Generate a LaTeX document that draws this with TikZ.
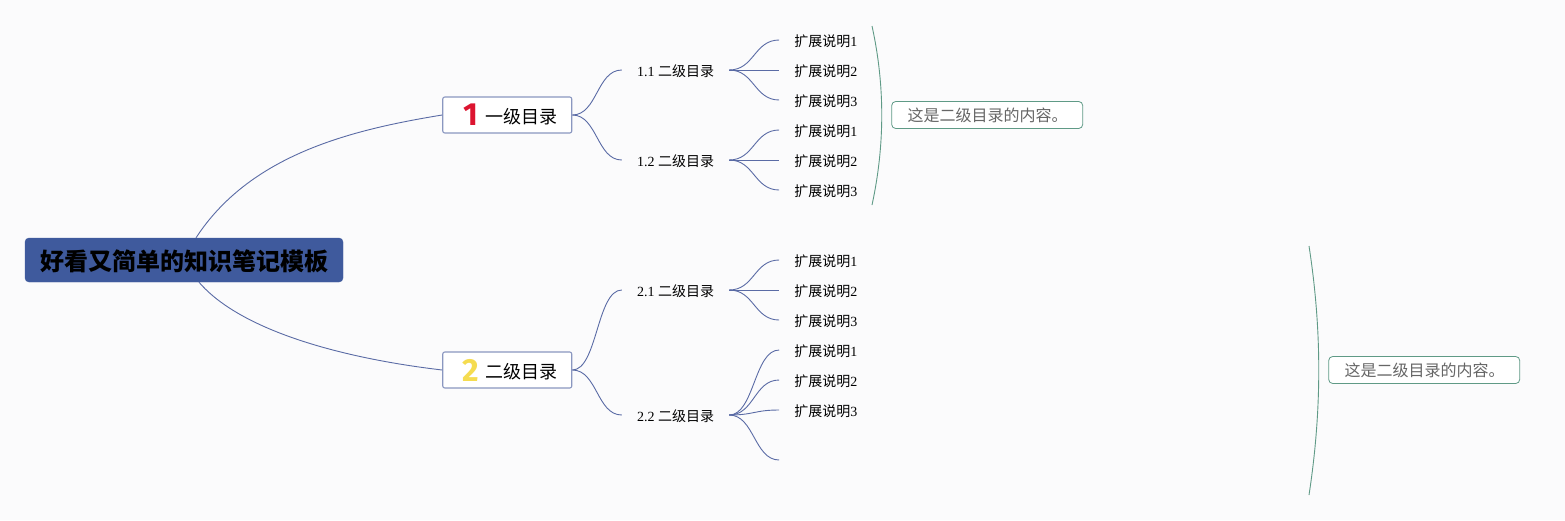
\documentclass[tikz,border=0pt]{standalone}
\usepackage{fontspec}
\usepackage{xcolor}
\usetikzlibrary{positioning}
\setmainfont{Liberation Serif}
\newfontfamily\cjk{Noto Sans CJK SC}
\newfontfamily\digitfont{Fira Sans}
\definecolor{pagebg}{HTML}{FBFBFC}
\definecolor{rootblue}{HTML}{3F5A9D}
\definecolor{linkblue}{HTML}{5A6BA5}
\definecolor{boxblue}{HTML}{8A97C0}
\definecolor{notegreen}{HTML}{5F9A86}
\definecolor{notegray}{HTML}{666666}
\definecolor{onered}{HTML}{DC1430}
\definecolor{twoyellow}{HTML}{F5DC50}
\newcommand{\expl}[1]{{\cjk 扩展说明}#1}
\newcommand{\subtitle}[1]{#1 {\cjk 二级目录}}

\begin{document}
\begin{tikzpicture}[
    x=1pt, y=-1pt,
    rootbox/.style={
        rectangle, rounded corners=4pt, fill=rootblue, draw=rootblue,
        minimum width=318pt, minimum height=44pt, inner sep=0pt,
        text height=23pt, text depth=2pt,
        font=\cjk\bfseries\fontsize{24}{28}\selectfont, text=black
    },
    levelbox/.style={
        rectangle, draw=boxblue, fill=white, rounded corners=2pt, line width=1.1pt,
        minimum height=36pt, inner xsep=14pt, inner ysep=0pt, text width=101pt, align=right,
        text height=18pt, text depth=1.4pt,
        font=\cjk\fontsize{18}{22}\selectfont
    },
    subbox/.style={
        minimum width=107pt, minimum height=20pt, inner sep=0pt,
        text height=13pt, text depth=0.5pt, font=\fontsize{14}{17}\selectfont
    },
    itembox/.style={
        minimum width=93pt, minimum height=20pt, inner sep=0pt,
        text height=13pt, text depth=0.5pt, font=\fontsize{14}{17}\selectfont
    },
    notebox/.style={
        rectangle, draw=notegreen, fill=white, rounded corners=4pt, line width=0.8pt,
        minimum height=27pt, inner xsep=16pt, inner ysep=0pt, text width=159pt, align=left,
        text=notegray, font=\cjk\fontsize{16}{19}\selectfont
    },
    icon/.style={inner sep=0pt, font=\digitfont\bfseries\fontsize{32}{36}\selectfont},
    link/.style={draw=linkblue, line width=0.9pt, to path={.. controls +(25pt,0pt) and +(-25pt,0pt) .. (\tikztotarget)}},
    trunk/.style={draw=linkblue, line width=0.9pt},
    brace/.style={draw=notegreen, line width=0.9pt}
]
\fill[pagebg] (0,0) rectangle (1565,520);

\node[rootbox] (root) at (184,260) {好看又简单的知识笔记模板};
\coordinate[right=12pt of root.north] (roottop);
\coordinate[right=15pt of root.south] (rootbot);

\node[levelbox, right=99pt of root, yshift=145pt] (one) {一级目录};
\node[levelbox, right=99pt of root, yshift=-110pt] (two) {二级目录};
\node[icon, text=onered, right=21pt of one.west] (oneicon) {1};
\node[icon, text=twoyellow, right=20.5pt of two.west] (twoicon) {2};

\node[subbox, right=49.5pt of one, yshift=45pt] (s11) {\subtitle{1.1}};
\node[subbox, right=49.5pt of one, yshift=-45pt] (s12) {\subtitle{1.2}};
\node[subbox, right=49.5pt of two, yshift=80pt] (s21) {\subtitle{2.1}};
\node[subbox, right=49.5pt of two, yshift=-45pt] (s22) {\subtitle{2.2}};

\node[itembox, right=50pt of s11, yshift=30pt] (a1) {\expl{1}};
\node[itembox, right=50pt of s11] (a2) {\expl{2}};
\node[itembox, right=50pt of s11, yshift=-30pt] (a3) {\expl{3}};
\node[itembox, right=50pt of s12, yshift=30pt] (b1) {\expl{1}};
\node[itembox, right=50pt of s12] (b2) {\expl{2}};
\node[itembox, right=50pt of s12, yshift=-30pt] (b3) {\expl{3}};
\node[itembox, right=50pt of s21, yshift=30pt] (c1) {\expl{1}};
\node[itembox, right=50pt of s21] (c2) {\expl{2}};
\node[itembox, right=50pt of s21, yshift=-30pt] (c3) {\expl{3}};
\node[itembox, right=50pt of s22, yshift=65pt] (d1) {\expl{1}};
\node[itembox, right=50pt of s22, yshift=35pt] (d2) {\expl{2}};
\node[itembox, right=50pt of s22, yshift=5pt] (d3) {\expl{3}};
\node[itembox, right=50pt of s22, yshift=-45pt] (d4) {};

\node[notebox, right=319pt of one] (note1) {这是二级目录的内容。};
\node[notebox, right=756pt of two] (note2) {这是二级目录的内容。};
\coordinate (br1a) at (872,26);
\coordinate (br1b) at (872,205);
\coordinate (br2a) at (1309,246);
\coordinate (br2b) at (1309,495);

\draw[trunk] (roottop) .. controls (250,155) and (350,130) .. (one.west);
\draw[trunk] (rootbot) .. controls (240,330) and (340,358) .. (two.west);

\draw[link] (one.east) to (s11.west);
\draw[link] (one.east) to (s12.west);
\draw[link] (two.east) to (s21.west);
\draw[link] (two.east) to (s22.west);

\draw[link] (s11.east) to (a1.west);
\draw[link] (s11.east) to (a2.west);
\draw[link] (s11.east) to (a3.west);
\draw[link] (s12.east) to (b1.west);
\draw[link] (s12.east) to (b2.west);
\draw[link] (s12.east) to (b3.west);
\draw[link] (s21.east) to (c1.west);
\draw[link] (s21.east) to (c2.west);
\draw[link] (s21.east) to (c3.west);
\draw[link] (s22.east) to (d1.west);
\draw[link] (s22.east) to (d2.west);
\draw[link] (s22.east) to (d3.west);
\draw[link] (s22.east) to (d4.west);

\draw[brace] (br1a) .. controls (885,85) and (885,145) .. (br1b);
\draw[brace] (br2a) .. controls (1322,330) and (1322,410) .. (br2b);
\end{tikzpicture}
\end{document}
